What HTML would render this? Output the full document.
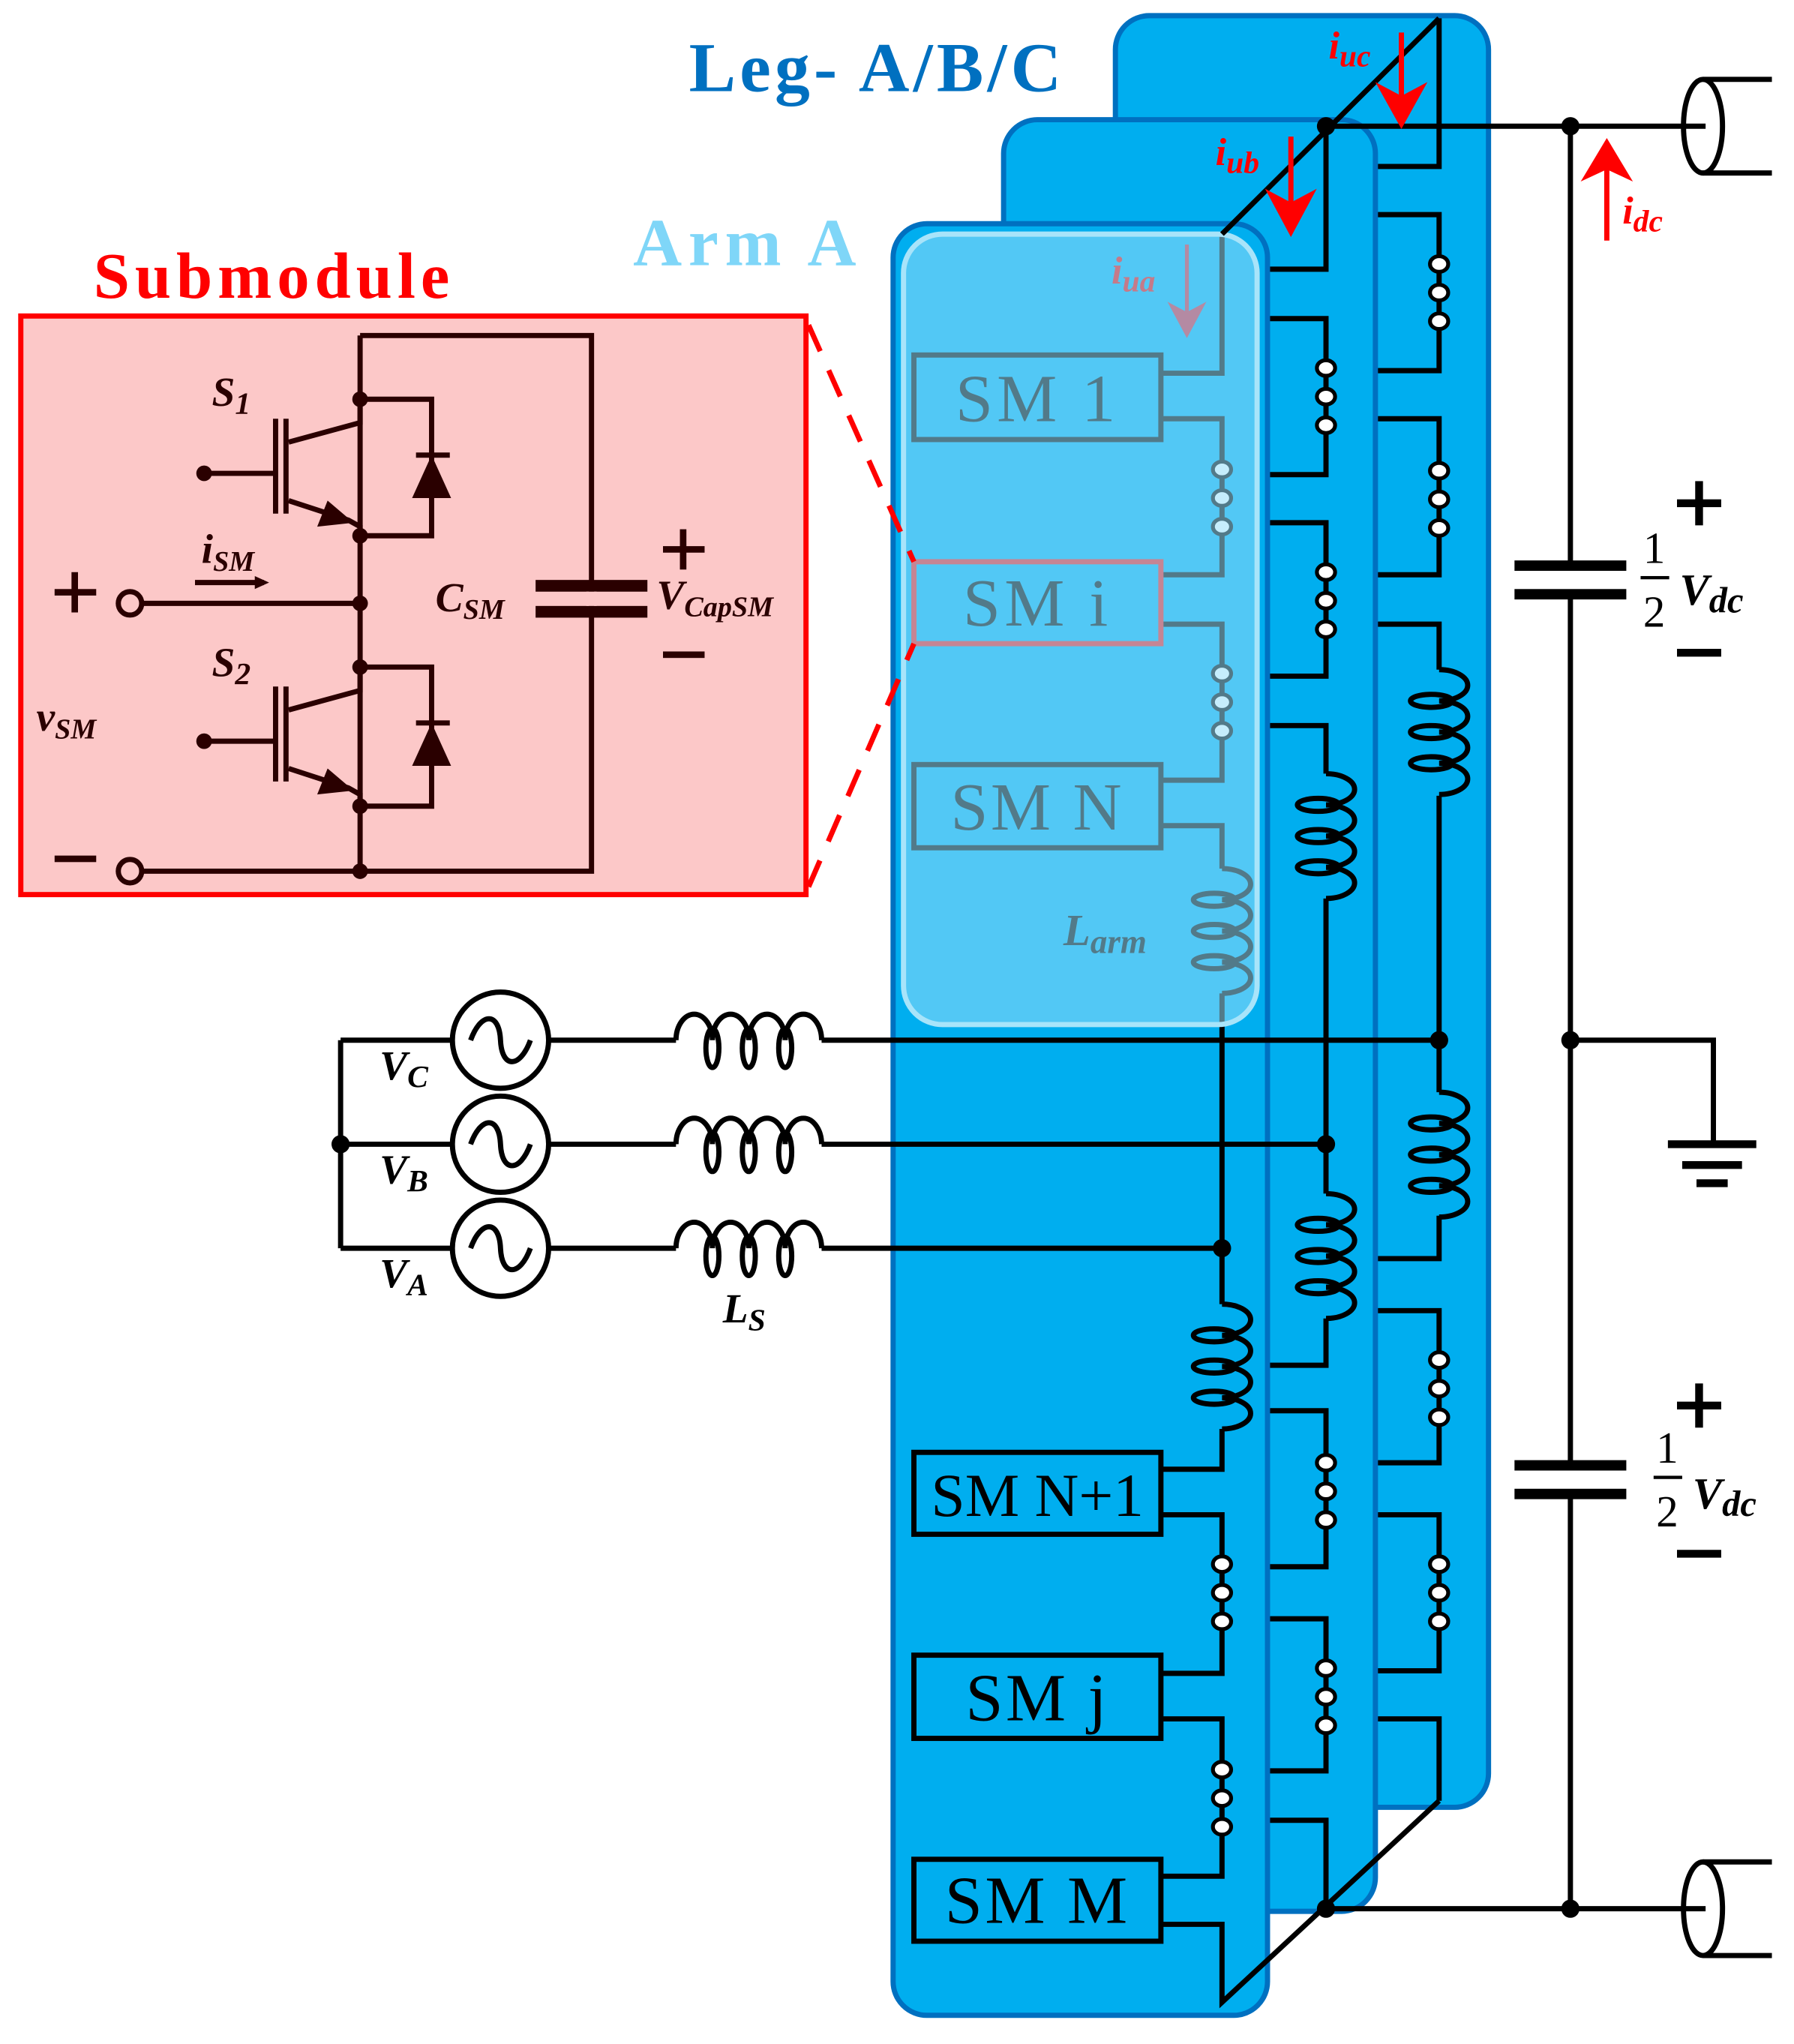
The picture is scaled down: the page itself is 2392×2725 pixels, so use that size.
<!DOCTYPE html>
<html><head><meta charset="utf-8"><style>
html,body{margin:0;padding:0;background:#fff}
svg{display:block}
text{font-family:"Liberation Serif",serif}
.m{font-style:italic}
</style></head><body>
<svg width="2392" height="2725" viewBox="0 0 1380 1572" xmlns="http://www.w3.org/2000/svg">
<defs>
<g id="vc" fill="none" stroke="#000" stroke-width="4">
<path d="M0,0 a22,12 0 0 1 0,24 a22,12 0 0 1 0,24 a22,12 0 0 1 0,24 a22,12 0 0 1 0,24"/>
<ellipse cx="-6" cy="24" rx="16" ry="5"/><ellipse cx="-6" cy="48" rx="16" ry="5"/><ellipse cx="-6" cy="72" rx="16" ry="5"/>
</g>
<g id="hc" fill="none" stroke="#000" stroke-width="4">
<path d="M0,0 a14,20 0 0 1 28,0 a14,20 0 0 1 28,0 a14,20 0 0 1 28,0 a14,20 0 0 1 28,0"/>
<ellipse cx="28" cy="6" rx="5" ry="15"/><ellipse cx="56" cy="6" rx="5" ry="15"/><ellipse cx="84" cy="6" rx="5" ry="15"/>
</g>
<g id="dots" fill="#fff" stroke="#000" stroke-width="3">
<ellipse cx="0" cy="0" rx="7" ry="6"/><ellipse cx="0" cy="22" rx="7" ry="6"/><ellipse cx="0" cy="44" rx="7" ry="6"/>
</g>
</defs>

<rect x="858" y="12" width="287" height="1378" rx="26" fill="#00AEEF" stroke="#0070C0" stroke-width="4"/>
<g fill="none" stroke="#000" stroke-width="4">
<path d="M1107,14 V128 H1040 M1040,165 H1107 V285 H1040 M1040,322 H1107 V442 H1040 M1040,480 H1107 V515 M1107,612 V840 M1107,935 V968 H1040 M1040,1008 H1107 V1125 H1040 M1040,1165 H1107 V1285 H1040 M1040,1322 H1107 V1385"/>
</g>
<use href="#vc" x="1107" y="515"/><use href="#vc" x="1107" y="840"/>
<use href="#dots" x="1107" y="203"/><use href="#dots" x="1107" y="362"/><use href="#dots" x="1107" y="1046"/><use href="#dots" x="1107" y="1203"/>

<rect x="772" y="92" width="286" height="1378" rx="26" fill="#00AEEF" stroke="#0070C0" stroke-width="4"/>
<g fill="none" stroke="#000" stroke-width="4">
<path d="M1020,97 V207 H960 M960,245 H1020 V365 H960 M960,402 H1020 V520 H960 M960,558 H1020 V595 M1020,691 V918 M1020,1014 V1050 H960 M960,1085 H1020 V1205 H960 M960,1245 H1020 V1362 H960 M960,1400 H1020 V1468"/>
</g>
<use href="#vc" x="1020" y="595"/><use href="#vc" x="1020" y="918"/>
<use href="#dots" x="1020" y="283"/><use href="#dots" x="1020" y="440"/><use href="#dots" x="1020" y="1125"/><use href="#dots" x="1020" y="1283"/>

<rect x="687" y="172" width="288" height="1378" rx="26" fill="#00AEEF" stroke="#0070C0" stroke-width="4"/>
<g fill="none" stroke="#000" stroke-width="4">
<path d="M940,180 V287 H893 M893,322 H940 V442 H893 M893,480 H940 V600 H893 M893,635 H940 V668 M940,764 V1003 M940,1099 V1130 H893 M893,1165 H940 V1287 H893 M893,1322 H940 V1443 H893 M893,1480 H940 V1540 L1107,1385"/>
<rect x="703" y="273" width="190" height="65"/>
<rect x="703" y="588" width="190" height="64"/>
<rect x="703" y="1117" width="190" height="63"/>
<rect x="703" y="1273" width="190" height="64"/>
<rect x="703" y="1430" width="190" height="63"/>
</g>
<rect x="703" y="432" width="190" height="63" fill="none" stroke="#ff1a1a" stroke-width="4"/>
<use href="#vc" x="940" y="668"/><use href="#vc" x="940" y="1003"/>
<use href="#dots" x="940" y="361"/><use href="#dots" x="940" y="518"/><use href="#dots" x="940" y="1203"/><use href="#dots" x="940" y="1361"/>
<g font-size="52" fill="#000" text-anchor="middle">
<text x="798" y="324" letter-spacing="3">SM 1</text>
<text x="798" y="481" letter-spacing="3">SM i</text>
<text x="798" y="638" letter-spacing="2">SM N</text>
<text x="798" y="1166" font-size="47">SM N+1</text>
<text x="798" y="1323" letter-spacing="2">SM j</text>
<text x="798" y="1479" letter-spacing="2">SM M</text>
</g>
<text x="818" y="727" class="m" font-size="34" font-weight="bold">L<tspan font-size="26" dy="6">arm</tspan></text>
<path d="M913,188 V245" stroke="#d9253a" stroke-width="3"/><path d="M898,232 L913,260 L928,232 L913,240 Z" fill="#d9253a"/>
<text x="855" y="218" class="m" font-size="30" fill="#ff0000" font-weight="bold">i<tspan font-size="24" dy="6">ua</tspan></text>

<rect x="695" y="180" width="272" height="608" rx="30" fill="rgba(150,222,250,0.55)" stroke="#a8e4fa" stroke-width="4"/>

<g fill="none" stroke="#000" stroke-width="4">
<path d="M262,800 V960 M262,800 H348 M262,880 H348 M262,960 H348 M422,800 H520 M422,880 H520 M422,960 H520 M632,800 H1107 M632,880 H1020 M632,960 H940"/>
<circle cx="385" cy="800" r="37"/><circle cx="385" cy="880" r="37"/><circle cx="385" cy="960" r="37"/>
<path d="M362,800 c8,-22 22,-22 23,0 c1,22 15,22 23,0"/>
<path d="M362,880 c8,-22 22,-22 23,0 c1,22 15,22 23,0"/>
<path d="M362,960 c8,-22 22,-22 23,0 c1,22 15,22 23,0"/>
</g>
<use href="#hc" x="520" y="800"/><use href="#hc" x="520" y="880"/><use href="#hc" x="520" y="960"/>
<g fill="#000"><circle cx="262" cy="880" r="7"/><circle cx="1107" cy="800" r="7"/><circle cx="1020" cy="880" r="7"/><circle cx="940" cy="960" r="7"/></g>
<g class="m" font-size="32" fill="#000" font-weight="bold">
<text x="292" y="830">V<tspan font-size="24" dy="6">C</tspan></text>
<text x="292" y="910">V<tspan font-size="24" dy="6">B</tspan></text>
<text x="292" y="990">V<tspan font-size="24" dy="6">A</tspan></text>
<text x="556" y="1017">L<tspan font-size="24" dy="6">S</tspan></text>
</g>

<g fill="none" stroke="#000" stroke-width="4">
<path d="M940,180 L1107,14"/>
<path d="M1020,97 H1312 M1020,1468 H1312 M1208,97 V436 M1208,456 V1128 M1208,1148 V1468 M1208,800 H1318 V880"/>
<ellipse cx="1310" cy="97" rx="15" ry="36"/><path d="M1310,61 H1363 M1310,133 H1363"/>
<ellipse cx="1310" cy="1468" rx="15" ry="36"/><path d="M1310,1432 H1363 M1310,1504 H1363"/>
</g>
<g fill="#000">
<rect x="1165" y="431" width="86" height="8"/><rect x="1165" y="453" width="86" height="8"/>
<rect x="1165" y="1123" width="86" height="8"/><rect x="1165" y="1145" width="86" height="8"/>
<rect x="1283" y="877" width="68" height="6"/><rect x="1294" y="893" width="46" height="6"/><rect x="1305" y="907" width="24" height="6"/>
<circle cx="1020" cy="97" r="7"/><circle cx="1208" cy="97" r="7"/><circle cx="1208" cy="800" r="7"/><circle cx="1020" cy="1468" r="7"/><circle cx="1208" cy="1468" r="7"/>
</g>
<g fill="#000">
<rect x="1290" y="384" width="34" height="6"/><rect x="1304" y="370" width="6" height="34"/>
<rect x="1290" y="499" width="34" height="6"/>
<rect x="1290" y="1078" width="34" height="6"/><rect x="1304" y="1064" width="6" height="34"/>
<rect x="1290" y="1192" width="34" height="6"/>
</g>
<g fill="#000" font-size="34">
<text x="1264" y="433">1</text><rect x="1262" y="443" width="22" height="2.5"/><text x="1264" y="482">2</text>
<text x="1292" y="465" class="m" font-weight="bold">V<tspan font-size="28" dy="6">dc</tspan></text>
<text x="1274" y="1125">1</text><rect x="1272" y="1135" width="22" height="2.5"/><text x="1274" y="1174">2</text>
<text x="1302" y="1160" class="m" font-weight="bold">V<tspan font-size="28" dy="6">dc</tspan></text>
</g>

<g stroke="#ff0000" stroke-width="4" fill="#ff0000">
<path d="M1078,25 V75" fill="none"/><path d="M1063,68 L1078,95 L1093,68 L1078,76 Z"/>
<path d="M993,105 V158" fill="none"/><path d="M978,150 L993,178 L1008,150 L993,158 Z"/>
<path d="M1236,185 V128" fill="none"/><path d="M1221,135 L1236,110 L1251,135 L1236,128 Z"/>
</g>
<g class="m" font-weight="bold" fill="#ff0000" font-size="30">
<text x="1022" y="45">i<tspan font-size="24" dy="6">uc</tspan></text>
<text x="935" y="127">i<tspan font-size="24" dy="6">ub</tspan></text>
<text x="1248" y="172">i<tspan font-size="24" dy="6">dc</tspan></text>
</g>

<text x="530" y="70" font-size="54" font-weight="bold" fill="#0070C0" letter-spacing="3">Leg- A/B/C</text>
<text x="487" y="204" font-size="52" font-weight="bold" fill="#7fd6f8" letter-spacing="5">Arm A</text>
<text x="72" y="229" font-size="50" font-weight="bold" fill="#ff0000" letter-spacing="4">Submodule</text>

<rect x="16" y="243" width="604" height="445" fill="#fcc8c8" stroke="#ff0000" stroke-width="4"/>
<g stroke="#ff0000" stroke-width="4" stroke-dasharray="22,16" fill="none">
<path d="M622,250 L703,432"/><path d="M622,682 L703,495"/>
</g>
<g fill="none" stroke="#2a0000" stroke-width="4">
<path d="M277,258 H455 V670 H100 M277,258 V670"/>
<path d="M277,307 H332 V412 H277 M277,513 H332 V620 H277"/>
<path d="M320,350 H346 M320,556 H346"/>
<path d="M157,364 H210 M157,570 H210"/>
<path d="M212,322 V395 M220,322 V395 M212,528 V601 M220,528 V601"/>
<path d="M222,340 L277,325 V307 M222,385 L268,400 L277,405 V412"/>
<path d="M222,546 L277,531 V513 M222,591 L268,606 L277,611 V620"/>
<path d="M110,464 H277"/>
<path d="M150,448 H203"/>
</g>
<g fill="#2a0000">
<path d="M332,350 L347,383 L317,383 Z"/><path d="M332,556 L347,589 L317,589 Z"/>
<path d="M252,385 L272,402 L244,405 Z"/><path d="M252,591 L272,608 L244,611 Z"/>
<path d="M196,443 L207,448 L196,453 Z"/>
<circle cx="277" cy="307" r="6"/><circle cx="277" cy="412" r="6"/><circle cx="277" cy="464" r="6"/><circle cx="277" cy="513" r="6"/><circle cx="277" cy="620" r="6"/><circle cx="277" cy="670" r="6"/>
<circle cx="157" cy="364" r="6"/><circle cx="157" cy="570" r="6"/>
<rect x="412" y="446" width="86" height="9"/><rect x="412" y="466" width="86" height="9"/>
<rect x="42" y="453" width="32" height="5"/><rect x="55" y="440" width="5" height="31"/>
<rect x="42" y="658" width="32" height="5"/>
<rect x="510" y="420" width="32" height="5"/><rect x="523" y="407" width="5" height="31"/>
<rect x="510" y="501" width="32" height="5"/>
</g>
<rect x="451" y="455" width="8" height="11" fill="#fcc8c8"/>
<g fill="#fcc8c8" stroke="#2a0000" stroke-width="4"><circle cx="100" cy="464" r="9"/><circle cx="100" cy="670" r="9"/></g>
<g fill="#2a0000" class="m" font-size="32" font-weight="bold">
<text x="163" y="312">S<tspan font-size="24" dy="6">1</tspan></text>
<text x="163" y="520">S<tspan font-size="24" dy="6">2</tspan></text>
<text x="155" y="433">i<tspan font-size="22" dy="6">SM</tspan></text>
<text x="28" y="562">v<tspan font-size="22" dy="6">SM</tspan></text>
<text x="335" y="470">C<tspan font-size="22" dy="6">SM</tspan></text>
<text x="505" y="468">V<tspan font-size="22" dy="6">CapSM</tspan></text>
</g>
</svg>
</body></html>
